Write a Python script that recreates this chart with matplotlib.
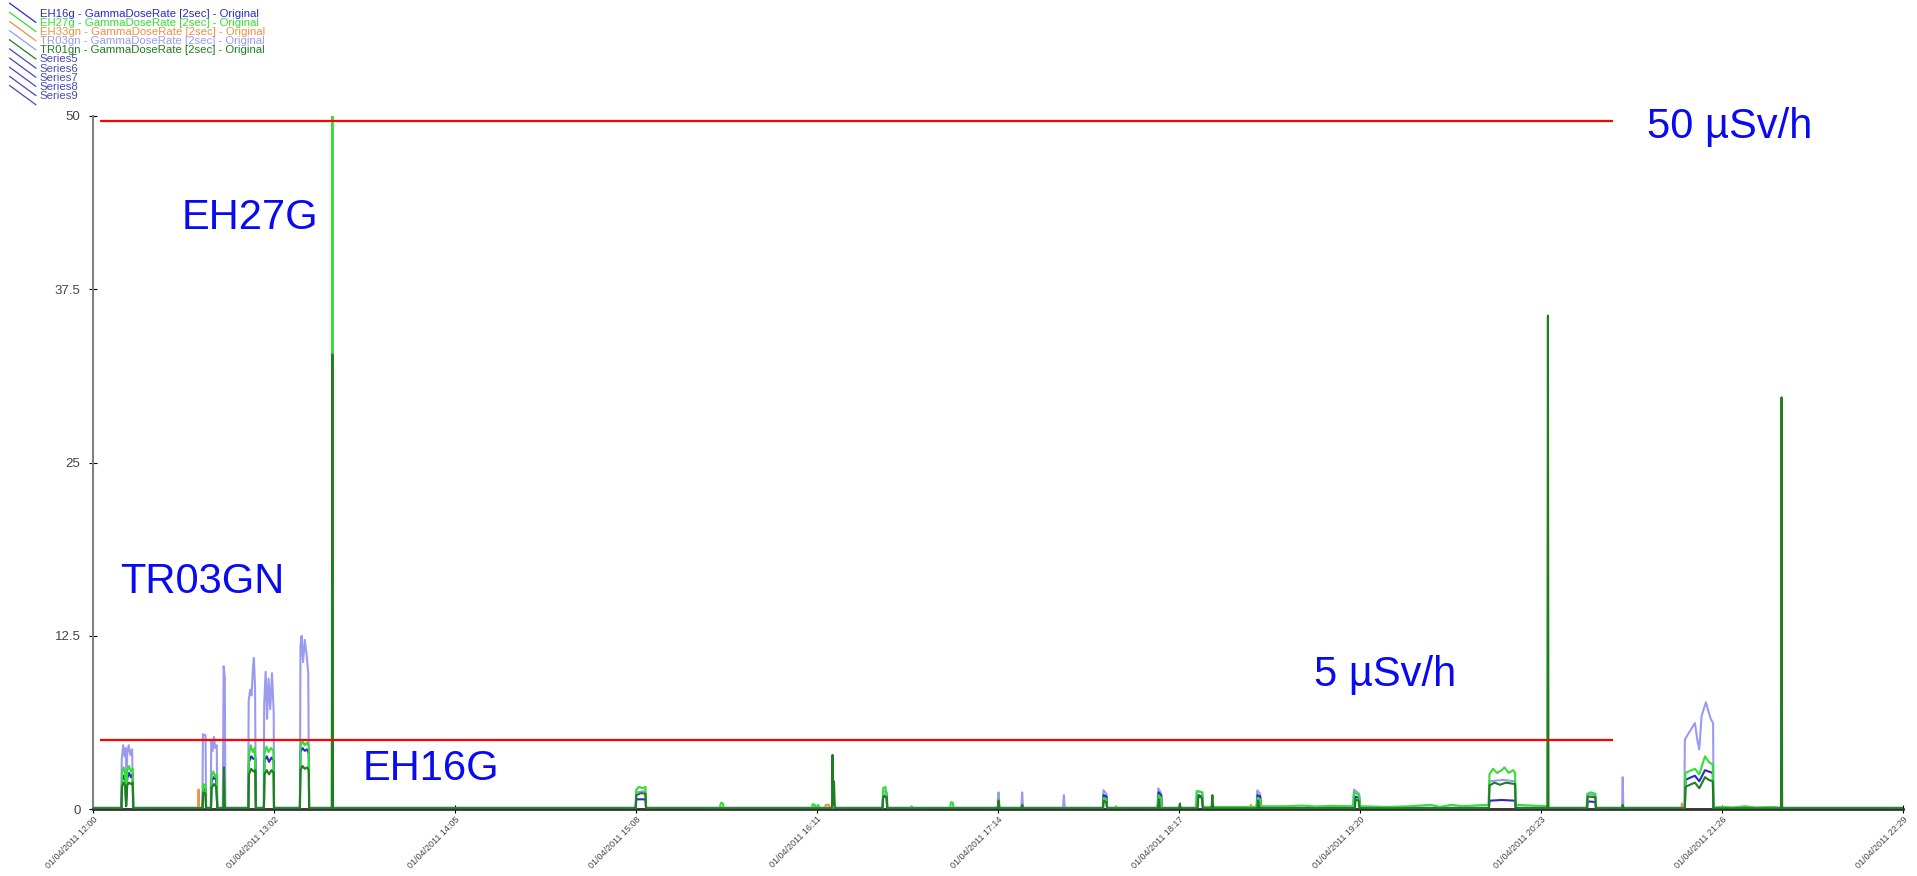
import numpy as np
import matplotlib
matplotlib.use('Agg')
import matplotlib.pyplot as plt
from matplotlib.lines import Line2D
from matplotlib.legend_handler import HandlerBase

plt.rcParams['font.family'] = ['Liberation Sans', 'DejaVu Sans']

# x axis is minutes after 01/04/2011 12:00
time_labels = ['01/04/2011 12:00', '01/04/2011 13:02', '01/04/2011 14:05',
               '01/04/2011 15:08', '01/04/2011 16:11', '01/04/2011 17:14',
               '01/04/2011 18:17', '01/04/2011 19:20', '01/04/2011 20:23',
               '01/04/2011 21:26', '01/04/2011 22:29']
y_ticks = [0, 12.5, 25, 37.5, 50]
y_tick_labels = ['0', '12.5', '25', '37.5', '50']
limit_values = [49.65, 5]

# (minute, uSv/h)
eh16g = [
    (0, 0.05),
    (9.9, 0.05), (10.1, 2.0), (10.6, 2.4), (11.2, 2.1), (11.5, 0.2), (11.9, 2.2), (12.5, 2.6), (13.2, 2.3), (13.8, 2.5), (14.0, 0.05),
    (38.1, 0.05), (38.3, 1.5), (39.1, 1.4), (39.3, 0.05),
    (41.0, 0.05), (41.2, 2.0), (42.0, 2.3), (42.8, 2.1), (43.2, 0.05),
    (54.0, 0.05), (54.2, 3.4), (55.0, 3.8), (55.8, 3.6), (56.4, 3.7), (56.6, 0.05),
    (59.4, 0.05), (59.6, 3.5), (60.4, 3.8), (61.2, 3.4), (62.0, 3.7), (62.8, 3.5), (62.9, 0.05),
    (71.9, 0.05), (72.1, 4.1), (72.8, 4.4), (73.6, 4.2), (74.4, 4.3), (75.0, 4.0), (75.1, 0.05),
    (188.6, 0.05), (188.8, 0.7), (192.0, 0.7), (192.2, 0.05),
    (274.4, 0.05), (274.6, 1.0), (275.8, 0.9), (276.0, 0.05),
    (351.0, 0.05), (351.2, 1.0), (352.2, 0.9), (352.4, 0.05),
    (370.0, 0.05), (370.3, 1.2), (371.2, 1.0), (371.5, 0.05),
    (383.8, 0.05), (384.1, 1.0), (385.4, 0.9), (385.7, 0.05),
    (404.4, 0.05), (404.7, 1.0), (405.6, 0.9), (405.9, 0.05),
    (438.3, 0.05), (438.6, 0.9), (440.0, 0.8), (440.3, 0.05),
    (485.1, 0.05), (485.3, 0.6), (489.5, 0.65), (494.2, 0.6), (494.4, 0.05),
    (519.2, 0.05), (519.4, 0.55), (522.1, 0.5), (522.3, 0.05),
    (553.2, 0.05), (553.4, 2.1), (555.5, 2.3), (556.7, 2.4), (558.2, 2.0), (560.2, 2.8), (561.5, 2.7), (562.9, 2.6), (563.1, 0.05),
    (629, 0.05),
]

eh27g = [
    (0, 0.05),
    (9.9, 0.05), (10.1, 2.6), (10.6, 3.0), (11.2, 2.5), (11.5, 0.3), (11.9, 2.8), (12.5, 3.1), (13.2, 2.7), (13.8, 2.9), (14.0, 0.05),
    (38.1, 0.05), (38.3, 1.8), (39.1, 1.7), (39.3, 0.05),
    (41.0, 0.05), (41.2, 2.4), (41.8, 2.7), (42.5, 2.3), (43.0, 2.5), (43.2, 0.05),
    (45.3, 0.05), (45.5, 2.5), (45.8, 0.05),
    (54.0, 0.05), (54.2, 3.9), (54.8, 4.6), (55.5, 4.1), (56.2, 4.4), (56.6, 0.05),
    (59.4, 0.05), (59.6, 4.0), (60.3, 4.5), (61.0, 4.1), (61.8, 4.4), (62.7, 4.2), (62.9, 0.05),
    (71.9, 0.05), (72.1, 4.5), (72.8, 4.9), (73.6, 4.6), (74.4, 4.8), (75.0, 4.5), (75.1, 0.05),
    (83.0, 0.05), (83.2, 50.5), (83.4, 0.05),
    (188.6, 0.05), (188.8, 1.4), (189.8, 1.6), (191.0, 1.5), (192.0, 1.6), (192.2, 0.05),
    (217.8, 0.05), (218.2, 0.45), (218.9, 0.4), (219.2, 0.05),
    (249.8, 0.05), (250.1, 0.35), (250.8, 0.3), (251.2, 0.05), (252.0, 0.3), (252.6, 0.05),
    (274.4, 0.05), (274.6, 1.5), (275.4, 1.6), (276.0, 0.05),
    (284.2, 0.05), (284.5, 0.2), (284.8, 0.05),
    (297.8, 0.05), (298.2, 0.5), (298.8, 0.45), (299.1, 0.05),
    (314.4, 0.05), (314.7, 0.7), (315.0, 0.05),
    (351.0, 0.05), (351.2, 0.8), (352.2, 0.7), (352.4, 0.05),
    (355.2, 0.05), (355.5, 0.2), (355.8, 0.05),
    (370.0, 0.05), (370.3, 1.0), (371.2, 0.8), (371.5, 0.05),
    (383.3, 0.05), (383.6, 1.3), (385.5, 1.2), (385.8, 0.15),
    (404.4, 0.15), (404.7, 0.8), (405.6, 0.7), (405.9, 0.2),
    (415, 0.2), (420, 0.25), (425, 0.18), (430, 0.22), (437.9, 0.2), (438.2, 1.2), (440.0, 1.0), (440.3, 0.2),
    (450, 0.15), (458, 0.2), (465, 0.3), (468, 0.15), (472, 0.3), (476, 0.2), (480, 0.25), (485.0, 0.3),
    (485.3, 2.5), (486.5, 2.9), (488.0, 2.6), (489.5, 2.8), (490.5, 3.0), (492.0, 2.6), (493.5, 2.8), (494.2, 2.6),
    (494.4, 0.3), (500, 0.25), (505.3, 0.2), (505.6, 0.05),
    (519.2, 0.05), (519.4, 1.1), (520.5, 1.2), (522.1, 1.1), (522.3, 0.05),
    (553.2, 0.05), (553.4, 2.6), (555.5, 2.8), (556.7, 2.9), (558.2, 2.5), (560.2, 3.8), (561.5, 3.4), (562.9, 3.2),
    (563.1, 0.1), (567, 0.15), (570, 0.1), (574, 0.2), (578, 0.1), (584, 0.15), (586.8, 0.05),
    (629, 0.05),
]

eh33gn = [
    (0, 0), (36.5, 0), (36.7, 1.4), (36.9, 0),
    (254.4, 0), (254.6, 0.3), (255.8, 0.3), (256.0, 0),
    (402.2, 0), (402.4, 0.3), (402.6, 0),
    (466.0, 0), (466.3, 0.15), (466.6, 0),
    (551.9, 0), (552.2, 0.4), (552.5, 0),
    (629, 0),
]

tr03gn = [
    (0, 0.1),
    (9.8, 0.1), (10.0, 3.6), (10.5, 4.6), (11.0, 3.8), (11.4, 4.4), (11.6, 0.8), (11.9, 4.0), (12.4, 4.6), (13.0, 3.9), (13.6, 4.3), (13.9, 0.1),
    (38.0, 0.1), (38.2, 5.4), (39.1, 5.3), (39.3, 0.1),
    (40.9, 0.1), (41.1, 5.0), (41.6, 4.2), (42.0, 5.2), (42.5, 4.4), (43.0, 4.6), (43.2, 0.1),
    (45.1, 0.1), (45.4, 10.3), (45.8, 9.5), (46.0, 0.1),
    (53.9, 0.1), (54.1, 7.8), (54.6, 8.6), (55.1, 8.2), (55.6, 10.2), (55.9, 10.9), (56.3, 8.9), (56.6, 0.1),
    (59.3, 0.1), (59.5, 7.6), (60.0, 9.9), (60.5, 6.5), (61.0, 9.4), (61.6, 7.2), (62.2, 9.8), (62.8, 7.0), (62.9, 0.1),
    (71.9, 0.1), (72.1, 11.8), (72.5, 12.5), (73.0, 10.6), (73.6, 12.2), (74.2, 11.2), (74.8, 9.8), (75.1, 0.1),
    (188.5, 0.1), (188.8, 1.2), (191.8, 1.3), (192.2, 0.1),
    (274.3, 0.1), (274.6, 1.3), (275.9, 1.2), (276.1, 0.1),
    (314.4, 0.1), (314.7, 1.2), (315.0, 0.1),
    (322.6, 0.1), (322.9, 1.2), (323.2, 0.1),
    (337.1, 0.1), (337.4, 1.0), (337.7, 0.1),
    (350.9, 0.1), (351.1, 1.35), (352.2, 1.1), (352.4, 0.1),
    (369.9, 0.1), (370.2, 1.5), (371.2, 1.1), (371.5, 0.1),
    (383.3, 0.1), (383.6, 1.3), (385.5, 1.2), (385.8, 0.1),
    (404.3, 0.1), (404.6, 1.35), (405.6, 1.1), (405.9, 0.1),
    (437.9, 0.1), (438.2, 1.4), (440.0, 1.1), (440.3, 0.1),
    (485.0, 0.1), (485.3, 2.0), (490.0, 2.1), (494.1, 2.0), (494.4, 0.1),
    (519.0, 0.1), (519.3, 1.1), (522.0, 1.0), (522.3, 0.1),
    (531.4, 0.1), (531.6, 2.3), (531.8, 0.1),
    (553.0, 0.1), (553.2, 5.0), (554.0, 5.3), (555.5, 5.8), (556.7, 6.2), (557.5, 5.0), (558.2, 4.3),
    (559.0, 6.7), (560.5, 7.7), (561.3, 7.1), (562.2, 6.5), (563.0, 6.2), (563.2, 0.1),
    (629, 0.1),
]

tr01gn = [
    (0, 0.05),
    (9.9, 0.05), (10.1, 1.6), (10.6, 1.9), (11.2, 1.7), (11.5, 0.2), (11.9, 1.7), (12.5, 1.9), (13.2, 1.8), (13.8, 1.9), (14.0, 0.05),
    (38.1, 0.05), (38.3, 1.2), (39.1, 1.1), (39.3, 0.05),
    (41.0, 0.05), (41.2, 1.5), (42.0, 1.8), (42.8, 1.6), (43.2, 0.05),
    (45.3, 0.05), (45.5, 3.0), (45.8, 0.05),
    (54.0, 0.05), (54.2, 2.5), (55.0, 2.9), (55.8, 2.7), (56.4, 2.8), (56.6, 0.05),
    (59.4, 0.05), (59.6, 2.5), (60.4, 2.8), (61.2, 2.5), (62.0, 2.8), (62.8, 2.6), (62.9, 0.05),
    (71.9, 0.05), (72.1, 2.8), (72.8, 3.1), (73.6, 2.9), (74.4, 3.0), (75.0, 2.8), (75.1, 0.05),
    (83.0, 0.05), (83.2, 32.8), (83.4, 0.05),
    (188.6, 0.05), (188.8, 1.0), (190.5, 1.15), (192.0, 1.1), (192.2, 0.05),
    (256.8, 0.05), (257.0, 3.9), (257.2, 0.3), (257.5, 2.0), (257.8, 0.05),
    (274.4, 0.05), (274.6, 0.9), (275.8, 0.85), (276.0, 0.05),
    (314.4, 0.05), (314.7, 0.6), (315.0, 0.05),
    (322.6, 0.05), (322.9, 0.3), (323.2, 0.05),
    (351.0, 0.05), (351.2, 0.6), (352.2, 0.5), (352.4, 0.05),
    (370.1, 0.05), (370.4, 0.7), (370.8, 0.05),
    (377.4, 0.05), (377.7, 0.4), (378.0, 0.05),
    (383.8, 0.05), (384.1, 0.9), (385.4, 0.8), (385.7, 0.05),
    (388.7, 0.05), (389.0, 1.0), (389.3, 0.05),
    (404.6, 0.05), (404.9, 0.6), (405.3, 0.05),
    (438.5, 0.05), (438.8, 0.7), (439.8, 0.6), (440.1, 0.05),
    (485.1, 0.05), (485.3, 1.7), (487.0, 1.9), (489.0, 1.75), (491.0, 1.9), (494.2, 1.8), (494.4, 0.05),
    (505.4, 0.05), (505.6, 35.6), (505.8, 0.05),
    (519.2, 0.05), (519.4, 0.9), (522.1, 0.85), (522.3, 0.05),
    (531.4, 0.05), (531.6, 0.3), (531.8, 0.05),
    (553.2, 0.05), (553.4, 1.6), (555.5, 1.8), (556.7, 1.9), (558.2, 1.5), (560.2, 2.3), (561.5, 2.1), (562.9, 2.0), (563.1, 0.05),
    (586.6, 0.05), (586.8, 29.7), (587.0, 0.05),
    (629, 0.05),
]

series = [
    ('EH16g - GammaDoseRate [2sec] - Original', eh16g, '#2a2ac8', 3),
    ('EH27g - GammaDoseRate [2sec] - Original', eh27g, '#35dd35', 4),
    ('EH33gn - GammaDoseRate [2sec] - Original', eh33gn, '#f09040', 2),
    ('TR03gn - GammaDoseRate [2sec] - Original', tr03gn, '#9a9af0', 1),
    ('TR01gn - GammaDoseRate [2sec] - Original', tr01gn, '#1f7f1f', 5),
]
extra_series = ['Series5', 'Series6', 'Series7', 'Series8', 'Series9']
extra_color = '#4848b8'


class DiagonalHandler(HandlerBase):
    def create_artists(self, legend, orig_handle, xdescent, ydescent,
                       width, height, fontsize, trans):
        line = Line2D([-xdescent, -xdescent + width],
                      [-ydescent + height * 1.7, -ydescent - height * 0.7],
                      color=orig_handle.get_color(), lw=0.9)
        line.set_transform(trans)
        return [line]


fig = plt.figure(figsize=(19.17, 8.76), dpi=100)
ax = fig.add_axes([93 / 1917, 67 / 876, 1810 / 1917, 693 / 876])

handles = []
for name, pts, color, z in series:
    pts = np.array(pts)
    ax.plot(pts[:, 0], pts[:, 1], color=color, lw=1.5, zorder=z)
    handles.append(Line2D([], [], color=color))
for name in extra_series:
    handles.append(Line2D([], [], color=extra_color))

ax.hlines(limit_values, 2.4, 528.2, color='red', lw=1.6, zorder=6)

txt = dict(color='#0a0af0', fontsize=30, ha='left', va='baseline', zorder=7)
ax.text(540.0, 48.4, '50 µSv/h', **txt)
ax.text(30.9, 41.85, 'EH27G', **txt)
ax.text(9.4, 15.58, 'TR03GN', **txt)
ax.text(93.7, 2.09, 'EH16G', **txt)
ax.text(424.3, 8.87, '5 µSv/h', **txt)

ax.set_xlim(0, 629)
ax.set_ylim(0, 50)
ax.set_xticks(np.linspace(0, 629, len(time_labels)))
ax.set_xticklabels(time_labels, rotation=45, ha='right', va='top',
                   rotation_mode='anchor', fontsize=6.5, color='#444444')
ax.set_yticks(y_ticks)
ax.set_yticklabels(y_tick_labels, fontsize=9.5, color='#444444')
ax.tick_params(axis='both', direction='inout', length=6, width=0.8, color='black')
ax.tick_params(axis='x', pad=1)
ax.tick_params(axis='y', pad=6)

for side in ['top', 'right']:
    ax.spines[side].set_visible(False)
ax.spines['left'].set_color('#808080')
ax.spines['left'].set_linewidth(1.5)
ax.spines['bottom'].set_color('#333333')
ax.spines['bottom'].set_linewidth(2)

labels = [s[0] for s in series] + extra_series
fig.legend(handles, labels, loc='upper left', bbox_to_anchor=(0.005, 0.99),
           frameon=False, fontsize=8.2, labelspacing=-0.075, handlelength=2.3,
           handletextpad=0.35, borderpad=0, borderaxespad=0,
           labelcolor='linecolor', handler_map={Line2D: DiagonalHandler()})

fig.savefig('out.png', dpi=100, facecolor='white')
